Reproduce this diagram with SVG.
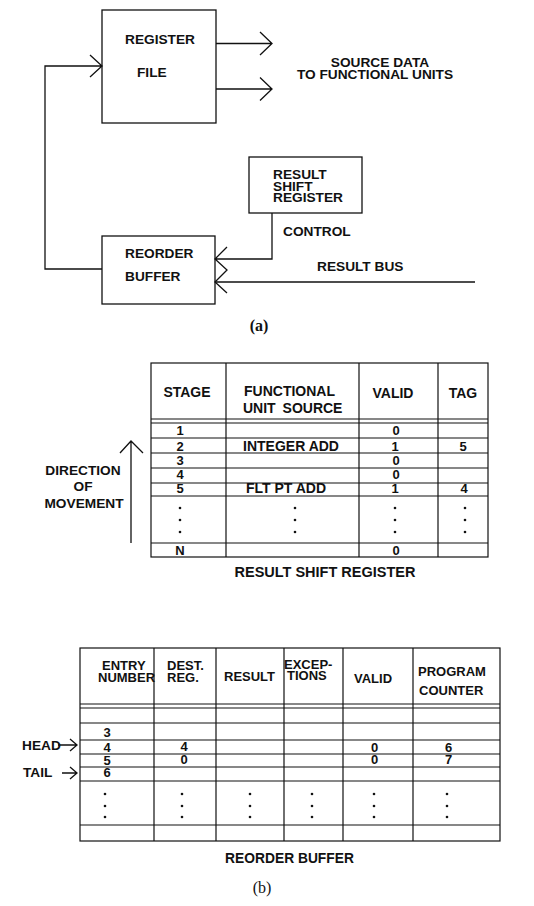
<svg xmlns="http://www.w3.org/2000/svg" width="534" height="906" viewBox="0 0 534 906">
<style>
  .box{fill:none;stroke:#111;stroke-width:1.3}
  .ln{fill:none;stroke:#111;stroke-width:1.3;stroke-linejoin:miter}
  .tl{fill:none;stroke:#111;stroke-width:1.2}
  text{font-family:"Liberation Sans",Arial,sans-serif;font-weight:bold;fill:#111}
  .a{font-size:13.7px}
  .h{font-size:14px}
  .d{font-size:13px}
  .hb{font-size:13px}
  .m{text-anchor:middle}
  .cap{font-family:"Liberation Serif","Times New Roman",serif;font-size:16px;font-weight:normal}
  .capb{font-family:"Liberation Serif","Times New Roman",serif;font-size:16px;font-weight:bold}
  .dot{fill:#111}
</style>
<rect width="534" height="906" fill="#fff"/>

<!-- ===== Part (a) ===== -->
<g id="register-file">
  <rect class="box" x="102" y="10" width="114" height="113"/>
  <text class="a" x="125" y="44">REGISTER</text>
  <text class="a" x="137" y="77">FILE</text>
</g>
<g id="result-shift-register">
  <rect class="box" x="249" y="157" width="113" height="56"/>
  <text class="a" x="273" y="179">RESULT</text>
  <text class="a" x="273" y="190.5">SHIFT</text>
  <text class="a" x="273" y="202">REGISTER</text>
</g>
<g id="reorder-buffer">
  <rect class="box" x="102" y="236" width="113" height="68"/>
  <text class="a" x="125" y="258">REORDER</text>
  <text class="a" x="125" y="281">BUFFER</text>
</g>
<g id="labels-a">
  <text class="a m" x="380" y="67">SOURCE DATA</text>
  <text class="a m" x="375" y="78.5">TO FUNCTIONAL UNITS</text>
  <text class="a" x="283" y="236">CONTROL</text>
  <text class="a" x="317" y="271">RESULT BUS</text>
  <text class="capb m" x="259" y="331">(a)</text>
</g>
<g id="connectors">
  <path class="ln" d="M216 43.5H272M260 32L272 43.5L260 55"/>
  <path class="ln" d="M216 89H272M260 77.5L272 89L260 100.5"/>
  <path class="ln" d="M102 269H45V66H102M90 55L102 66L90 77"/>
  <path class="ln" d="M272 213V259H215M227 247L215 259L227 270L215 282L227 293"/>
  <path class="ln" d="M215 282H475"/>
</g>

<!-- ===== Result shift register table ===== -->
<g id="rsr-table">
  <rect class="tl" x="151" y="363" width="337" height="194"/>
  <path class="tl" d="M226 363V557M359 363V557M438 363V557"/>
  <path class="tl" d="M151 419H488M151 423H488M151 438H488M151 453H488M151 468H488M151 483H488M151 496H488M151 543H488"/>
  <text class="h m" x="187" y="397">STAGE</text>
  <text class="h" x="244" y="396">FUNCTIONAL</text>
  <text class="h" x="243" y="413" word-spacing="3">UNIT SOURCE</text>
  <text class="h m" x="393" y="398">VALID</text>
  <text class="h m" x="463" y="398">TAG</text>

  <text class="d m" x="180" y="435">1</text>
  <text class="d m" x="396" y="435">0</text>

  <text class="d m" x="180" y="451">2</text>
  <text class="h m" x="291" y="451">INTEGER ADD</text>
  <text class="d m" x="395" y="451">1</text>
  <text class="d m" x="463" y="451">5</text>

  <text class="d m" x="180" y="465">3</text>
  <text class="d m" x="396" y="465">0</text>

  <text class="d m" x="180" y="479">4</text>
  <text class="d m" x="396" y="479">0</text>

  <text class="d m" x="180" y="493">5</text>
  <text class="h m" x="286" y="493">FLT PT ADD</text>
  <text class="d m" x="395" y="493">1</text>
  <text class="d m" x="464" y="493">4</text>

  <g class="dot">
    <circle cx="180" cy="508" r="1.3"/><circle cx="180" cy="520" r="1.3"/><circle cx="180" cy="532" r="1.3"/>
    <circle cx="295" cy="508" r="1.3"/><circle cx="295" cy="520" r="1.3"/><circle cx="295" cy="532" r="1.3"/>
    <circle cx="395" cy="508" r="1.3"/><circle cx="395" cy="520" r="1.3"/><circle cx="395" cy="532" r="1.3"/>
    <circle cx="465" cy="508" r="1.3"/><circle cx="465" cy="520" r="1.3"/><circle cx="465" cy="532" r="1.3"/>
  </g>

  <text class="d m" x="180" y="555">N</text>
  <text class="d m" x="396" y="555">0</text>

  <text class="m" x="325" y="577" font-size="14.5">RESULT SHIFT REGISTER</text>
</g>
<g id="direction-of-movement">
  <text class="a m" x="83" y="475">DIRECTION</text>
  <text class="a m" x="83" y="491">OF</text>
  <text class="a m" x="84" y="508">MOVEMENT</text>
  <path class="ln" d="M131 543V441M120 453L131 441L143 453"/>
</g>

<!-- ===== Reorder buffer table ===== -->
<g id="rob-table">
  <rect class="tl" x="80" y="648" width="420" height="193"/>
  <path class="tl" d="M154 648V841M216 648V841M284 648V841M343 648V841M413 648V841"/>
  <path class="tl" d="M80 704H500M80 708H500M80 723H500M80 740H500M80 754H500M80 767H500M80 781H500M80 825H500"/>

  <text class="hb" x="102" y="670">ENTRY</text>
  <text class="hb" x="98" y="682">NUMBER</text>
  <text class="hb" x="167" y="670">DEST.</text>
  <text class="hb" x="167" y="682">REG.</text>
  <text class="hb" x="224" y="681">RESULT</text>
  <text class="hb" x="284" y="669">EXCEP-</text>
  <text class="hb" x="287" y="680">TIONS</text>
  <text class="hb" x="354" y="683">VALID</text>
  <text class="hb" x="418" y="676">PROGRAM</text>
  <text class="hb" x="419" y="695">COUNTER</text>

  <text class="d m" x="107" y="737">3</text>
  <text class="d m" x="107" y="752">4</text>
  <text class="d m" x="184" y="751">4</text>
  <text class="d m" x="374.5" y="752">0</text>
  <text class="d m" x="448.5" y="752">6</text>
  <text class="d m" x="107" y="765">5</text>
  <text class="d m" x="184" y="764">0</text>
  <text class="d m" x="374.5" y="764">0</text>
  <text class="d m" x="448.5" y="764">7</text>
  <text class="d m" x="107" y="777">6</text>

  <g class="dot">
    <circle cx="105" cy="794" r="1.3"/><circle cx="105" cy="806" r="1.3"/><circle cx="105" cy="817" r="1.3"/>
    <circle cx="182" cy="794" r="1.3"/><circle cx="182" cy="806" r="1.3"/><circle cx="182" cy="817" r="1.3"/>
    <circle cx="250" cy="794" r="1.3"/><circle cx="250" cy="806" r="1.3"/><circle cx="250" cy="817" r="1.3"/>
    <circle cx="312" cy="794" r="1.3"/><circle cx="312" cy="806" r="1.3"/><circle cx="312" cy="817" r="1.3"/>
    <circle cx="374" cy="794" r="1.3"/><circle cx="374" cy="806" r="1.3"/><circle cx="374" cy="817" r="1.3"/>
    <circle cx="447" cy="794" r="1.3"/><circle cx="447" cy="806" r="1.3"/><circle cx="447" cy="817" r="1.3"/>
  </g>

  <text class="m" x="289.5" y="863" font-size="13.8">REORDER BUFFER</text>
  <text class="cap m" x="262" y="893">(b)</text>
</g>
<g id="head-tail">
  <text class="a" x="22" y="750">HEAD</text>
  <path class="ln" d="M58 745H77M70 739L77 745L70 751"/>
  <text class="a" x="23" y="777">TAIL</text>
  <path class="ln" d="M62 773H77M70 767L77 773L70 779"/>
</g>
</svg>
